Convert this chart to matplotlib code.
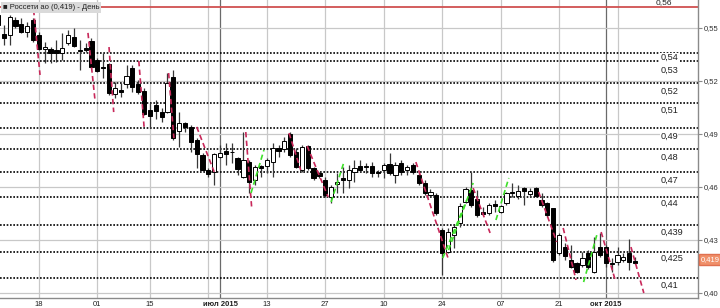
import numpy as np
import matplotlib
matplotlib.use('Agg')
import matplotlib.pyplot as plt

plt.rcParams['font.family'] = ['Liberation Sans', 'DejaVu Sans']

# daily candles, x = trading day number (0 = first bar on screen)
opens = [0.5573, 0.5466, 0.5460, 0.5545, 0.5523, 0.5477, 0.5545, 0.5460, 0.5381, 0.5381,
         0.5375, 0.5358, 0.5415, 0.5449, 0.5375, 0.5387, 0.5426, 0.5319, 0.5279, 0.5296,
         0.5126, 0.5149, 0.5183, 0.5274, 0.5183, 0.5143, 0.5036, 0.5064, 0.5024, 0.5024,
         0.5223, 0.4917, 0.4962, 0.4940, 0.4866, 0.4781, 0.4696, 0.4685, 0.4770, 0.4804,
         0.4798, 0.4764, 0.4657, 0.4741, 0.4640, 0.4719, 0.4719, 0.4741, 0.4821, 0.4815,
         0.4900, 0.4798, 0.4696, 0.4832, 0.4708, 0.4679, 0.4640, 0.4543, 0.4617, 0.4651,
         0.4640, 0.4685, 0.4719, 0.4719, 0.4719, 0.4685, 0.4696, 0.4730, 0.4668, 0.4736,
         0.4696, 0.4724, 0.4668, 0.4623, 0.4555, 0.4555, 0.4357, 0.4232, 0.4328, 0.4396,
         0.4515, 0.4583, 0.4532, 0.4458, 0.4453, 0.4504, 0.4458, 0.4509, 0.4572, 0.4549,
         0.4594, 0.4560, 0.4594, 0.4526, 0.4509, 0.4481, 0.4226, 0.4260, 0.4187, 0.4170,
         0.4158, 0.4226, 0.4119, 0.4260, 0.4260, 0.4170, 0.4175, 0.4187, 0.4226, 0.4181]
highs = [0.5600, 0.5517, 0.5573, 0.5562, 0.5556, 0.5534, 0.5556, 0.5477, 0.5421, 0.5392,
         0.5432, 0.5472, 0.5489, 0.5500, 0.5432, 0.5415, 0.5443, 0.5330, 0.5358, 0.5302,
         0.5194, 0.5189, 0.5290, 0.5290, 0.5206, 0.5160, 0.5075, 0.5092, 0.5047, 0.5245,
         0.5262, 0.5024, 0.4968, 0.4951, 0.4877, 0.4792, 0.4708, 0.4792, 0.4838, 0.4849,
         0.4849, 0.4770, 0.4911, 0.4753, 0.4724, 0.4724, 0.4764, 0.4849, 0.4838, 0.4883,
         0.4911, 0.4821, 0.4838, 0.4838, 0.4713, 0.4685, 0.4657, 0.4611, 0.4679, 0.4713,
         0.4724, 0.4753, 0.4753, 0.4736, 0.4741, 0.4696, 0.4736, 0.4792, 0.4741, 0.4753,
         0.4724, 0.4736, 0.4679, 0.4640, 0.4589, 0.4566, 0.4368, 0.4368, 0.4385, 0.4509,
         0.4600, 0.4685, 0.4583, 0.4487, 0.4509, 0.4526, 0.4498, 0.4572, 0.4623, 0.4611,
         0.4600, 0.4594, 0.4600, 0.4566, 0.4515, 0.4481, 0.4340, 0.4283, 0.4272, 0.4175,
         0.4232, 0.4243, 0.4317, 0.4340, 0.4272, 0.4198, 0.4260, 0.4226, 0.4306, 0.4204]
lows = [0.5490, 0.5404, 0.5404, 0.5500, 0.5472, 0.5449, 0.5421, 0.5375, 0.5302, 0.5302,
        0.5307, 0.5319, 0.5404, 0.5392, 0.5262, 0.5364, 0.5274, 0.5251, 0.5217, 0.5121,
        0.5104, 0.5109, 0.5160, 0.5138, 0.5126, 0.5007, 0.4934, 0.4985, 0.4968, 0.5019,
        0.4866, 0.4826, 0.4911, 0.4798, 0.4708, 0.4690, 0.4657, 0.4611, 0.4764, 0.4724,
        0.4736, 0.4668, 0.4651, 0.4566, 0.4611, 0.4657, 0.4679, 0.4657, 0.4770, 0.4798,
        0.4770, 0.4708, 0.4685, 0.4696, 0.4640, 0.4651, 0.4543, 0.4509, 0.4566, 0.4566,
        0.4594, 0.4628, 0.4685, 0.4679, 0.4657, 0.4657, 0.4651, 0.4668, 0.4623, 0.4668,
        0.4668, 0.4674, 0.4611, 0.4555, 0.4543, 0.4441, 0.4102, 0.4226, 0.4255, 0.4374,
        0.4509, 0.4487, 0.4430, 0.4441, 0.4441, 0.4458, 0.4453, 0.4498, 0.4543, 0.4532,
        0.4498, 0.4543, 0.4543, 0.4487, 0.4430, 0.4175, 0.4215, 0.4187, 0.4142, 0.4113,
        0.4147, 0.4136, 0.4113, 0.4204, 0.4147, 0.4119, 0.4158, 0.4175, 0.4130, 0.4164]
closes = [0.5517, 0.5443, 0.5562, 0.5511, 0.5477, 0.5511, 0.5432, 0.5381, 0.5392, 0.5358,
          0.5358, 0.5387, 0.5460, 0.5398, 0.5370, 0.5375, 0.5279, 0.5257, 0.5274, 0.5132,
          0.5160, 0.5138, 0.5228, 0.5166, 0.5138, 0.5013, 0.5002, 0.5030, 0.4996, 0.5189,
          0.4877, 0.4962, 0.4940, 0.4855, 0.4787, 0.4696, 0.4674, 0.4787, 0.4792, 0.4787,
          0.4796, 0.4702, 0.4753, 0.4628, 0.4713, 0.4708, 0.4753, 0.4821, 0.4804, 0.4860,
          0.4781, 0.4713, 0.4826, 0.4708, 0.4651, 0.4662, 0.4555, 0.4600, 0.4628, 0.4640,
          0.4696, 0.4708, 0.4696, 0.4713, 0.4679, 0.4679, 0.4724, 0.4679, 0.4724, 0.4685,
          0.4713, 0.4685, 0.4623, 0.4566, 0.4572, 0.4453, 0.4226, 0.4345, 0.4374, 0.4492,
          0.4589, 0.4498, 0.4441, 0.4447, 0.4498, 0.4492, 0.4492, 0.4566, 0.4566, 0.4577,
          0.4577, 0.4577, 0.4549, 0.4498, 0.4441, 0.4187, 0.4328, 0.4209, 0.4147, 0.4119,
          0.4198, 0.4147, 0.4232, 0.4215, 0.4170, 0.4164, 0.4215, 0.4204, 0.4175, 0.4170]

x_ticks = [7, 17, 26, 38, 46, 56, 66, 76, 86, 96, 104]
x_labels = ['18', '01', '15', 'июл 2015', '13', '27', '10', '24', '07', '21', 'окт 2015']
month_labels = ['июл 2015', 'окт 2015']
extra_days = [36, 106]

y_ticks = [0.40, 0.43, 0.46, 0.49, 0.52, 0.55]

# user drawn levels (dotted) and their captions
level_values = [0.5358, 0.5313, 0.5188, 0.5075, 0.4934, 0.4815, 0.4685, 0.4543, 0.4385, 0.4232, 0.4085]
level_labels = ['0,54', '0,53', '0,52', '0,51', '0,49', '0,48', '0,47', '0,44', '0,439', '0,425', '0,41']
label_drop = [3.4, 6.5, 5.8, 5.0, 5.8, 5.8, 5.8, 4.3, 5.0, 4.3, 5.0]  # points below the line
top_level = 0.5619
top_label = '0,56'

# dashed trend strokes: start day, start price, end day, end price
red_x0 = [6.1, 15.4, 19.0, 24.1, 29.2, 34.0, 42.4, 49.8, 52.9, 71.5, 81.3, 92.5, 96.7, 103.2, 108.3]
red_y0 = [0.5602, 0.5472, 0.5392, 0.5313, 0.5245, 0.4940, 0.4911, 0.4905, 0.4832, 0.4741, 0.4594, 0.4572, 0.4368, 0.4345, 0.4260]
red_x1 = [7.2, 16.6, 19.8, 25.0, 30.1, 37.0, 43.4, 51.8, 56.5, 77.0, 84.2, 95.6, 98.9, 105.6, 110.5]
red_y1 = [0.5234, 0.5092, 0.5024, 0.4940, 0.4877, 0.4685, 0.4487, 0.4696, 0.4543, 0.4198, 0.4340, 0.4289, 0.4074, 0.4074, 0.4000]

green_x0 = [43.3, 57.0, 76.1, 77.1, 85.2, 100.2]
green_y0 = [0.4566, 0.4515, 0.4198, 0.4243, 0.4413, 0.4062]
green_x1 = [45.5, 59.2, 80.2, 81.3, 87.4, 102.6]
green_y1 = [0.4809, 0.4741, 0.4526, 0.4623, 0.4651, 0.4345]

last_price = 0.419
title = 'Россети ао (0,419) - День'


def comma(v, digits):
    return f'{v:.{digits}f}'.replace('.', ',')


fig = plt.figure(figsize=(7.2, 3.08), dpi=100)
fig.set_facecolor('white')
ax = fig.add_axes([0, 10 / 308, 698 / 720, 298 / 308])
ax.set_xlim(0.35, 119.77)
ax.set_ylim(0.39717, 0.56582)

# grid
for d, lab in zip(x_ticks, x_labels):
    col = '#6a6a6a' if lab in month_labels else '#c8c8c8'
    ax.axvline(d, color=col, lw=0.9, zorder=1)
for d in extra_days:
    ax.axvline(d, color='#c8c8c8', lw=0.9, zorder=1)
for v in y_ticks:
    ax.axhline(v, color='#c8c8c8', lw=0.9, zorder=1)

# levels
for v in level_values:
    ax.axhline(v, color='black', lw=1.2, ls=(0, (1, 1)), zorder=2)
ax.axhline(top_level, color='#d05050', lw=1.3, zorder=2)

# candles
o = np.array(opens)
h = np.array(highs)
l = np.array(lows)
c = np.array(closes)
days = np.arange(len(o))
up = c >= o
ax.vlines(days, l, h, color='#383838', lw=0.9, zorder=3)
ax.bar(days[up], (c - o)[up], bottom=o[up], width=0.72,
       facecolor='white', edgecolor='black', lw=0.7, zorder=4)
ax.bar(days[~up], (o - c)[~up], bottom=c[~up], width=0.72,
       facecolor='black', edgecolor='black', lw=0.7, zorder=4)

# dashed strokes
for x0, y0, x1, y1 in zip(red_x0, red_y0, red_x1, red_y1):
    ax.plot([x0, x1], [y0, y1], color='#c8285a', lw=1.2, ls=(0, (3.2, 2)), zorder=5)
for x0, y0, x1, y1 in zip(green_x0, green_y0, green_x1, green_y1):
    ax.plot([x0, x1], [y0, y1], color='#3ee02a', lw=1.2, ls=(0, (3.2, 2)), zorder=5)

# level captions
for v, lab, drop in zip(level_values, level_labels, label_drop):
    ax.annotate(lab, xy=(0.946, v), xycoords=('axes fraction', 'data'),
                xytext=(0, -drop), textcoords='offset points', ha='left', va='center',
                fontsize=6.6, color='#202020', zorder=6,
                bbox=dict(facecolor='white', edgecolor='none', pad=0.4))
ax.annotate(top_label, xy=(0.939, top_level), xycoords=('axes fraction', 'data'),
            xytext=(0, 0.3), textcoords='offset points', ha='left', va='bottom',
            fontsize=6, color='#202020', zorder=6)

# axes look
for side in ['top', 'left']:
    ax.spines[side].set_visible(False)
for side in ['bottom', 'right']:
    ax.spines[side].set_color('#8a8a8a')
    ax.spines[side].set_linewidth(1.0)

ax.yaxis.tick_right()
ax.set_yticks(y_ticks)
ax.set_yticklabels([comma(v, 2) for v in y_ticks])
ax.tick_params(axis='y', length=3, width=0.8, color='#8a8a8a', labelsize=5.5,
               labelcolor='#303030', pad=1)
ax.set_xticks(x_ticks)
ax.set_xticklabels(x_labels)
ax.tick_params(axis='x', length=0, labelsize=5.5, labelcolor='#202020', pad=2)
for t in ax.get_xticklabels():
    if t.get_text() in month_labels:
        t.set_fontweight('bold')

ax.text(0.004, 0.988, '■ ' + title, transform=ax.transAxes, fontsize=5.5,
        va='top', ha='left', color='#202020', zorder=7,
        bbox=dict(facecolor='#dadada', edgecolor='none', pad=1.5))

ax.annotate(comma(last_price, 3), xy=(1, last_price), xycoords=('axes fraction', 'data'),
            xytext=(2, 0), textcoords='offset points', ha='left', va='center',
            fontsize=5.5, color='white', annotation_clip=False, zorder=7,
            bbox=dict(facecolor='#f0906a', edgecolor='#e07050', pad=1.2))

fig.savefig('out.png', dpi=100)
